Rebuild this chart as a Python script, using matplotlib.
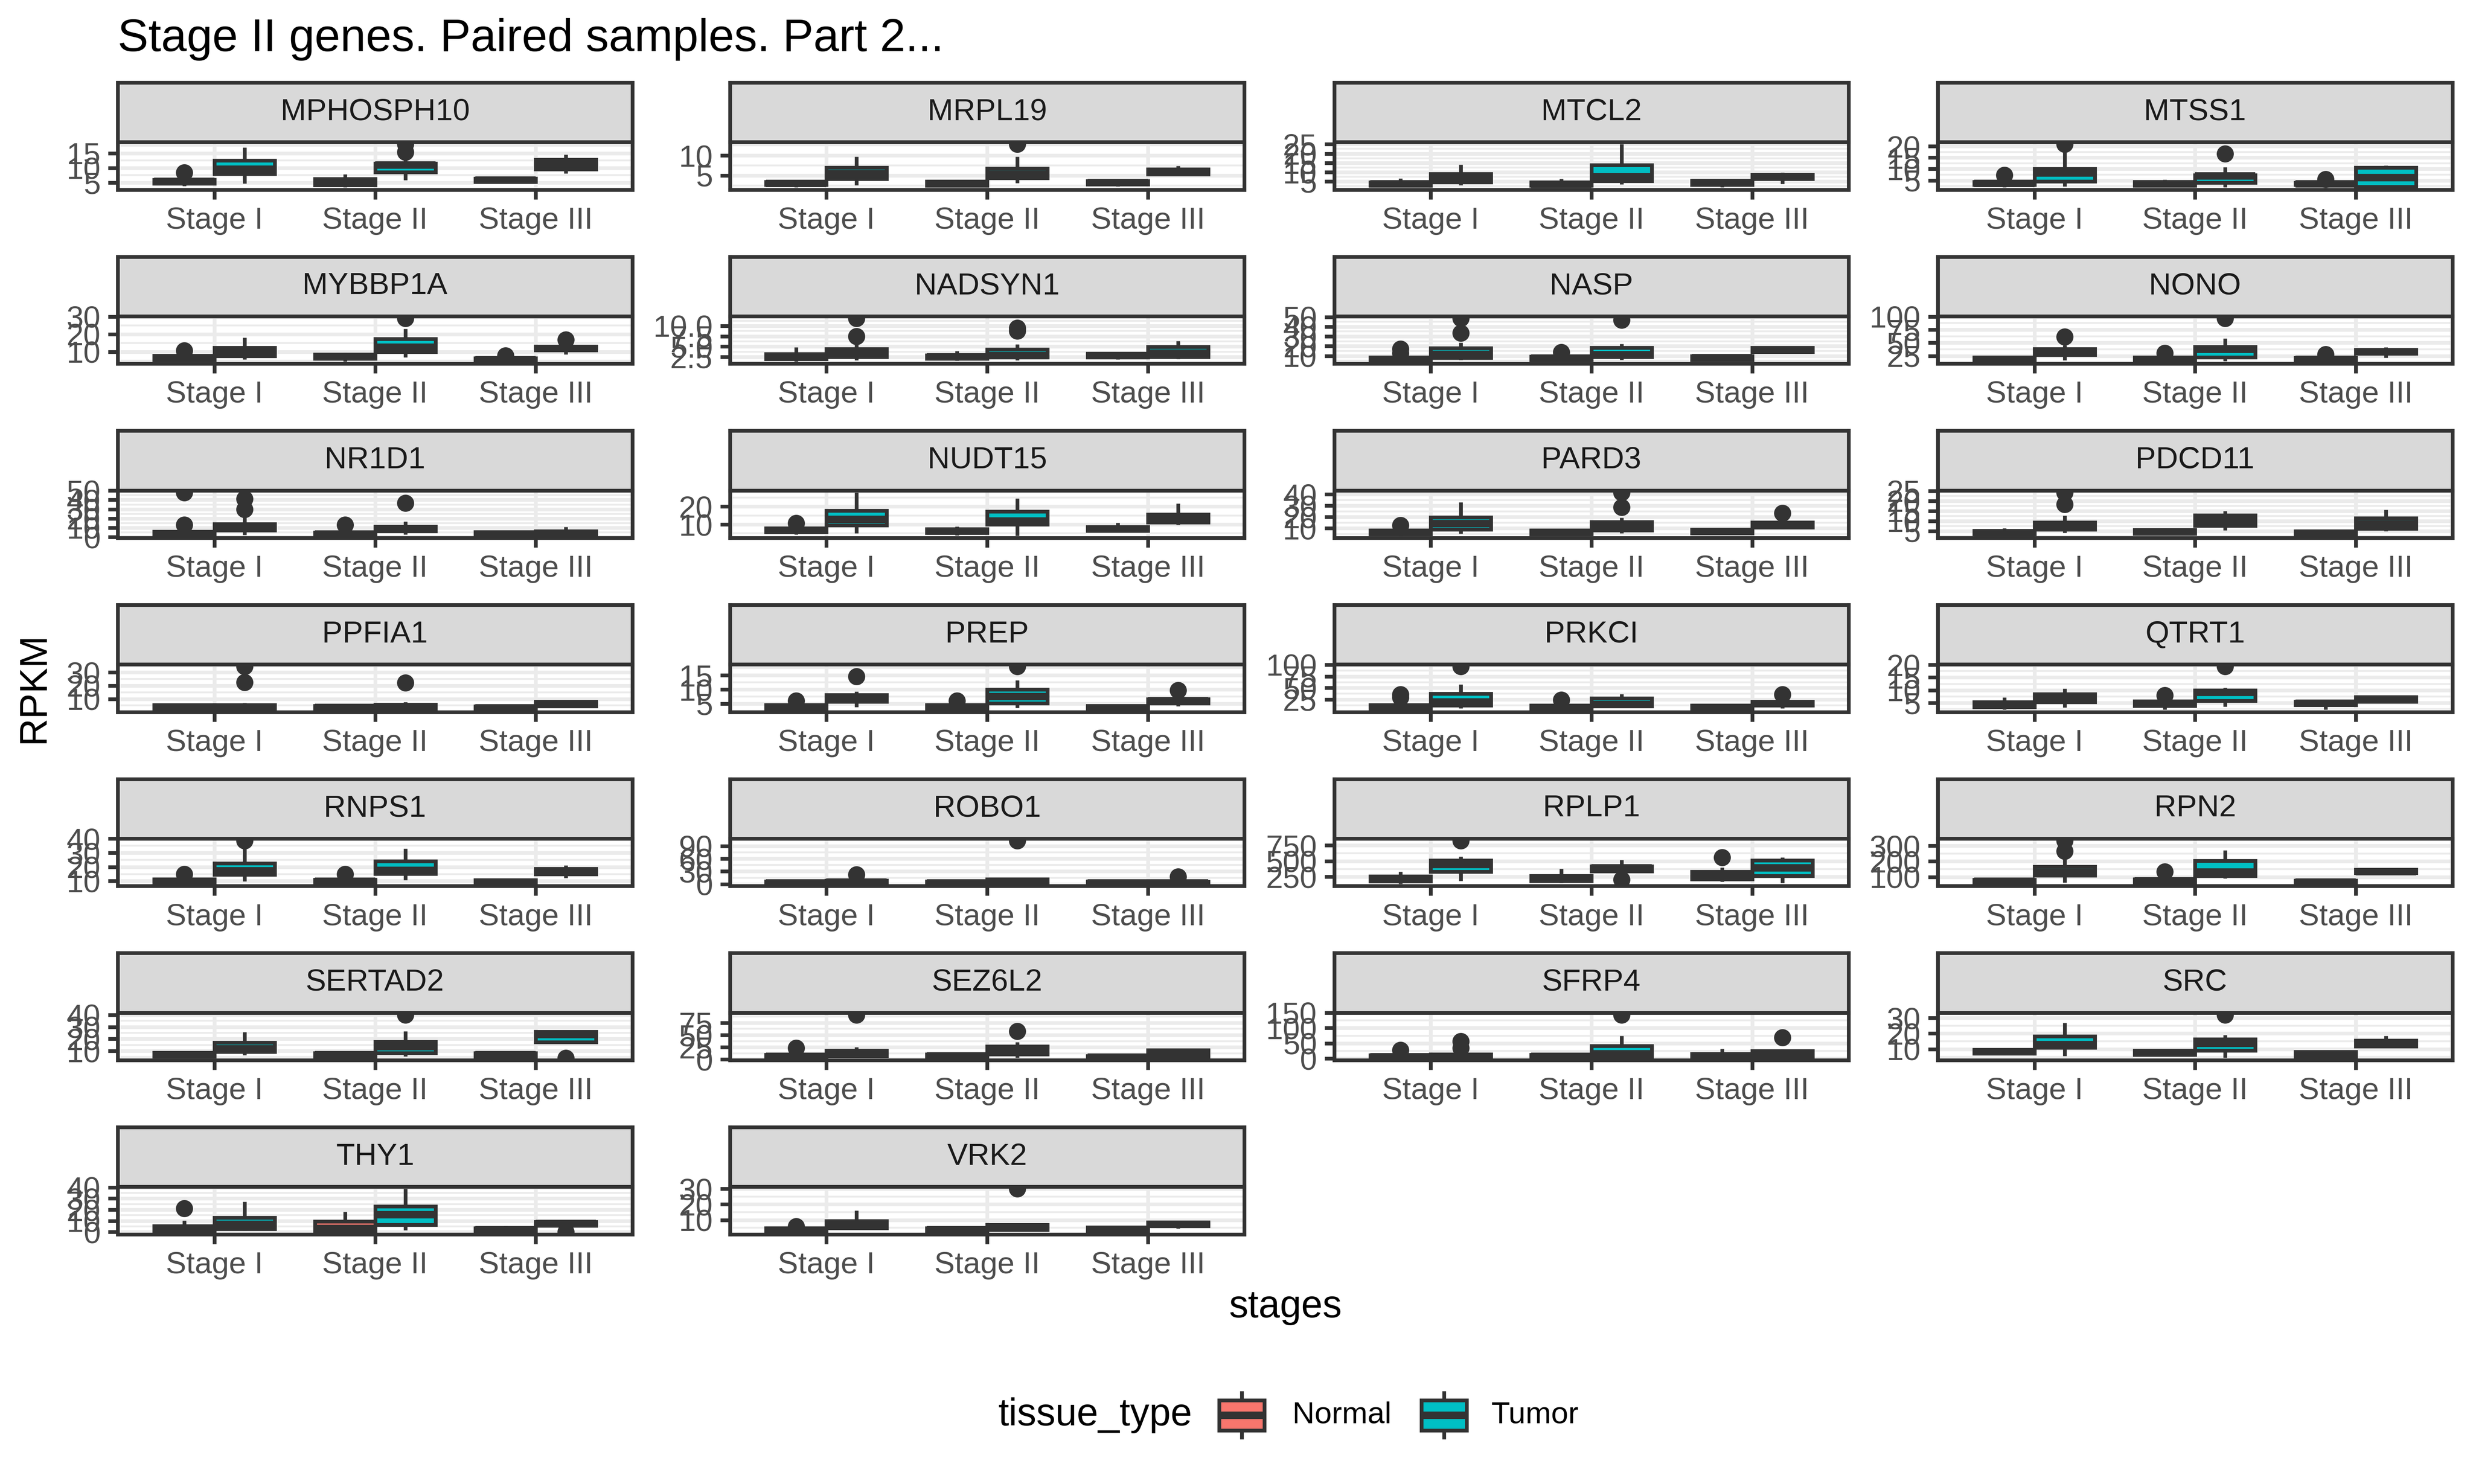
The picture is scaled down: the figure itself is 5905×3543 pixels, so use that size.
import matplotlib
matplotlib.use("Agg")
import matplotlib.pyplot as plt
from matplotlib.patches import Rectangle
from matplotlib.lines import Line2D
import numpy as np

plt.rcParams['font.family'] = ['Liberation Sans', 'DejaVu Sans']

# ------------------------------------------------------------------ data
stages = ["Stage I", "Stage II", "Stage III"]
tissues = ["Normal", "Tumor"]
tissue_colors = ["#F8766D", "#00BFC4"]
title_text = "Stage II genes. Paired samples. Part 2..."

genes = ["MPHOSPH10", "MRPL19", "MTCL2", "MTSS1",
         "MYBBP1A", "NADSYN1", "NASP", "NONO",
         "NR1D1", "NUDT15", "PARD3", "PDCD11",
         "PPFIA1", "PREP", "PRKCI", "QTRT1",
         "RNPS1", "ROBO1", "RPLP1", "RPN2",
         "SERTAD2", "SEZ6L2", "SFRP4", "SRC",
         "THY1", "VRK2"]

# boxes: [whisker_lo, q1, median, q3, whisker_hi] for
# Stage I Normal, Stage I Tumor, Stage II Normal, Stage II Tumor, Stage III Normal, Stage III Tumor
# outliers: (box index, value)
MPHOSPH10_box = [[3.9, 4.8, 5.4, 6.0, 7.0], [4.8, 8.0, 9.6, 12.5, 16.9], [3.4, 4.2, 5.2, 6.3, 7.8],
                 [5.9, 8.5, 10.9, 11.6, 13.6], [4.9, 5.3, 5.8, 6.4, 6.8], [8.2, 9.6, 11.2, 12.8, 14.5]]
MPHOSPH10_out = [(0, 8.4), (3, 15.3), (3, 18.0)]
MPHOSPH10_ticks = [5, 10, 15]

MRPL19_box = [[2.0, 2.65, 3.0, 3.4, 3.8], [2.6, 4.1, 5.4, 7.0, 9.7], [2.1, 2.5, 3.0, 3.5, 3.9],
              [3.1, 4.3, 5.3, 6.8, 9.7], [2.3, 2.8, 3.2, 3.6, 4.0], [5.0, 5.25, 6.0, 6.5, 7.4]]
MRPL19_out = [(3, 12.8)]
MRPL19_ticks = [5, 10]

MTCL2_box = [[1.8, 2.9, 3.7, 4.6, 6.7], [3.05, 4.5, 6.8, 9.0, 14.0], [1.8, 2.7, 3.5, 4.5, 6.3],
             [3.4, 5.3, 7.6, 13.8, 25.0], [2.0, 3.3, 4.3, 5.4, 6.0], [3.8, 6.4, 7.6, 8.6, 9.7]]
MTCL2_out = []
MTCL2_ticks = [5, 10, 15, 20, 25]

MTSS1_box = [[2.0, 3.0, 3.6, 4.45, 5.5], [2.3, 4.56, 8.2, 10.0, 17.9], [2.0, 2.8, 3.5, 4.35, 5.3],
             [1.9, 4.0, 6.9, 7.3, 10.9], [2.6, 3.0, 3.5, 4.0, 4.3], [2.0, 2.15, 6.3, 10.7, 11.5]]
MTSS1_out = [(0, 7.4), (1, 20.9), (3, 16.7), (4, 5.4)]
MTSS1_ticks = [5, 10, 15, 20]

MYBBP1A_box = [[4.8, 5.5, 6.5, 7.75, 8.5], [5.6, 7.6, 10.0, 12.4, 18.0], [4.5, 6.2, 7.2, 8.45, 9.5],
               [7.0, 10.1, 12.5, 17.3, 23.1], [4.6, 4.8, 5.5, 6.5, 7.0], [8.6, 11.0, 12.0, 13.2, 14.0]]
MYBBP1A_out = [(0, 10.7), (3, 29.0), (4, 7.9), (5, 17.0)]
MYBBP1A_ticks = [10, 20, 30]

NADSYN1_box = [[1.4, 2.0, 2.5, 3.2, 4.8], [1.75, 2.55, 3.3, 4.4, 5.5], [1.6, 2.15, 2.5, 2.95, 3.9],
               [1.7, 2.45, 2.85, 4.3, 5.5], [1.9, 2.4, 2.8, 3.3, 3.6], [2.0, 2.55, 3.4, 4.9, 6.4]]
NADSYN1_out = [(1, 7.5), (1, 11.8), (3, 8.8), (3, 9.5)]
NADSYN1_ticks = [2.5, 5.0, 7.5, 10.0]

NASP_box = [[4.2, 5.0, 6.5, 8.5, 11.0], [6.0, 8.0, 11.5, 18.0, 23.5], [4.3, 6.0, 7.5, 9.5, 11.5],
            [6.0, 9.0, 11.0, 18.5, 22.5], [4.5, 6.0, 8.0, 10.0, 11.0], [13.5, 14.0, 16.0, 18.5, 19.0]]
NASP_out = [(0, 13.0), (0, 17.0), (1, 33.5), (1, 48.5), (2, 13.5), (3, 46.8)]
NASP_ticks = [10, 20, 30, 40, 50]

NONO_box = [[14.5, 15.7, 18.5, 22.2, 24.0], [16.7, 27.3, 33.0, 38.4, 46.0], [14.5, 15.7, 18.0, 22.2, 24.5],
            [15.0, 22.7, 38.0, 42.6, 58.3], [15.0, 15.7, 18.5, 22.0, 24.0], [22.0, 29.6, 33.0, 37.0, 41.7]]
NONO_out = [(1, 61.6), (2, 30.5), (3, 96.5), (4, 28.0)]
NONO_ticks = [25, 50, 75, 100]

NR1D1_box = [[1.5, 1.8, 3.0, 5.8, 9.5], [2.5, 7.3, 10.8, 14.1, 21.1], [1.5, 1.8, 3.0, 4.8, 8.0],
             [2.8, 6.3, 8.5, 11.3, 16.6], [1.5, 1.8, 3.0, 5.5, 7.0], [1.5, 1.8, 3.5, 6.5, 11.0]]
NR1D1_out = [(0, 13.3), (0, 48.0), (1, 30.0), (1, 41.0), (2, 13.3), (3, 36.7)]
NR1D1_ticks = [0, 10, 20, 30, 40, 50]

NUDT15_box = [[4.5, 5.75, 6.8, 7.9, 9.0], [5.0, 9.5, 12.75, 17.75, 27.9], [4.0, 5.4, 6.3, 7.4, 8.9],
              [3.75, 10.1, 12.0, 17.25, 24.5], [6.0, 6.5, 7.5, 8.5, 11.0], [9.75, 11.25, 13.5, 15.6, 21.75]]
NUDT15_out = [(0, 10.8)]
NUDT15_ticks = [10, 20]

PARD3_box = [[3.5, 4.9, 6.5, 8.3, 9.5], [5.3, 9.1, 14.0, 19.6, 33.0], [3.8, 4.9, 6.3, 8.3, 9.0],
             [5.7, 8.1, 11.9, 15.8, 19.2], [4.0, 5.5, 7.0, 9.1, 9.8], [9.5, 10.9, 13.0, 15.4, 17.0]]
PARD3_out = [(0, 12.5), (3, 28.8), (3, 41.7), (5, 23.5)]
PARD3_ticks = [10, 20, 30, 40]

PDCD11_box = [[2.7, 3.4, 4.2, 5.2, 6.5], [4.2, 5.7, 7.6, 9.4, 12.6], [2.9, 3.7, 4.6, 5.6, 6.5],
              [5.35, 7.6, 10.2, 12.8, 14.9], [2.7, 3.0, 3.8, 4.9, 5.5], [5.0, 6.3, 8.4, 11.4, 15.6]]
PDCD11_out = [(1, 18.4), (1, 24.2)]
PDCD11_ticks = [5, 10, 15, 20, 25]

PPFIA1_box = [[1.8, 2.5, 3.5, 5.3, 6.5], [1.8, 2.5, 3.6, 5.3, 7.0], [1.8, 2.5, 3.5, 4.9, 6.0],
              [2.0, 2.6, 3.8, 5.8, 7.5], [1.8, 2.1, 3.2, 4.6, 5.5], [4.0, 4.6, 6.0, 8.1, 9.0]]
PPFIA1_out = [(1, 22.5), (1, 34.4), (3, 22.1)]
PPFIA1_ticks = [10, 20, 30]

PREP_box = [[2.9, 3.1, 3.8, 4.6, 5.2], [3.8, 5.7, 6.9, 8.2, 9.3], [2.9, 3.1, 3.8, 4.6, 5.2],
            [3.6, 5.25, 7.6, 10.0, 13.3], [2.9, 2.95, 3.6, 4.26, 4.5], [4.1, 5.25, 6.0, 6.7, 7.5]]
PREP_out = [(0, 6.0), (1, 14.6), (2, 6.0), (3, 18.1), (5, 9.8)]
PREP_ticks = [5, 10, 15]

PRKCI_box = [[3.0, 5.5, 8.0, 13.0, 22.0], [6.4, 12.1, 19.8, 37.9, 57.9], [3.0, 5.5, 8.0, 12.0, 18.0],
             [8.0, 10.2, 14.5, 27.4, 37.0], [3.0, 5.5, 8.0, 12.0, 14.0], [6.4, 12.0, 16.0, 20.7, 26.0]]
PRKCI_out = [(0, 30.0), (0, 36.0), (1, 96.0), (2, 24.0), (5, 36.0)]
PRKCI_ticks = [25, 50, 75, 100]

QTRT1_box = [[2.3, 3.3, 4.2, 5.3, 7.2], [3.2, 5.4, 6.95, 8.45, 10.6], [2.3, 3.9, 4.6, 5.6, 6.5],
             [3.5, 5.9, 9.2, 9.9, 10.9], [2.3, 4.2, 4.8, 5.5, 5.9], [5.3, 5.5, 6.5, 7.4, 7.6]]
QTRT1_out = [(2, 7.9), (3, 19.3)]
QTRT1_ticks = [5, 10, 15, 20]

RNPS1_box = [[8.2, 8.7, 9.8, 11.3, 13.0], [9.7, 14.5, 17.2, 22.5, 33.8], [8.0, 8.7, 9.8, 11.0, 13.0],
             [10.6, 15.1, 17.4, 24.1, 33.0], [8.0, 8.2, 9.3, 10.6, 11.0], [12.1, 15.0, 17.0, 18.7, 21.0]]
RNPS1_out = [(0, 15.0), (1, 38.6), (2, 15.0)]
RNPS1_ticks = [10, 20, 30, 40]

ROBO1_box = [[0.5, 1.1, 3.0, 6.1, 9.0], [1.0, 2.2, 5.0, 8.8, 14.0], [0.5, 1.1, 3.0, 6.6, 9.0],
             [1.0, 2.2, 5.5, 11.6, 13.0], [0.5, 1.1, 3.0, 6.6, 9.0], [0.5, 1.1, 3.0, 5.5, 8.0]]
ROBO1_out = [(1, 22.6), (3, 102.8), (5, 17.1)]
ROBO1_ticks = [0, 30, 60, 90]

RPLP1_box = [[139, 181, 220, 261, 330], [185, 334, 448, 513, 570], [150, 189, 230, 269, 380],
             [300, 338, 390, 422, 521], [170, 216, 270, 330, 400], [155, 265, 395, 510, 559]]
RPLP1_out = [(1, 826), (3, 204), (4, 559)]
RPLP1_ticks = [250, 500, 750]

RPN2_box = [[56, 63.5, 72, 84, 95], [63.5, 109, 129, 167, 215], [56, 65, 75, 87, 100],
            [91, 106, 131, 204, 271], [56, 58, 66, 77, 80], [120, 125, 135, 148, 152]]
RPN2_out = [(1, 266), (1, 332), (2, 135)]
RPN2_ticks = [100, 200, 300]

SERTAD2_box = [[4.5, 5.4, 7.0, 8.6, 9.5], [6.6, 9.4, 11.8, 17.0, 25.7], [4.5, 5.2, 6.8, 8.4, 9.5],
               [5.6, 8.2, 13.6, 17.6, 26.5], [4.5, 5.2, 6.8, 8.4, 9.5], [17.0, 17.4, 23.5, 26.1, 27.0]]
SERTAD2_out = [(3, 40.0), (5, 4.2)]
SERTAD2_ticks = [10, 20, 30, 40]

SEZ6L2_box = [[3.0, 4.0, 6.0, 9.5, 14.0], [4.0, 6.7, 12.0, 18.1, 24.8], [3.0, 4.0, 7.0, 10.5, 13.0],
              [3.5, 10.5, 18.6, 26.7, 35.0], [3.0, 3.5, 4.5, 6.7, 8.0], [3.5, 4.5, 12.0, 19.0, 20.0]]
SEZ6L2_out = [(0, 23.8), (1, 91.4), (3, 58.0)]
SEZ6L2_ticks = [0, 25, 50, 75]

SFRP4_box = [[2.0, 3.0, 6.0, 11.0, 16.0], [2.0, 3.0, 7.0, 13.4, 20.0], [2.0, 3.0, 7.0, 12.7, 15.0],
             [2.0, 3.5, 15.0, 41.8, 74.6], [2.0, 3.0, 8.0, 15.0, 32.0], [2.0, 3.0, 13.0, 24.6, 30.0]]
SFRP4_out = [(0, 28.0), (1, 35.0), (1, 57.0), (3, 143.2), (5, 69.4)]
SFRP4_ticks = [0, 50, 100, 150]

SRC_box = [[6.0, 7.2, 8.2, 9.55, 10.5], [5.7, 11.0, 12.8, 18.1, 26.7], [5.5, 6.4, 7.5, 9.0, 10.0],
           [4.6, 9.0, 13.7, 16.4, 19.1], [4.3, 4.3, 6.0, 8.4, 8.8], [11.5, 11.8, 13.5, 15.5, 18.5]]
SRC_out = [(3, 32.0)]
SRC_ticks = [10, 20, 30]

THY1_box = [[0.0, 0.4, 2.5, 5.6, 10.2], [1.2, 2.8, 7.0, 13.0, 27.2], [0.5, 0.8, 3.1, 9.5, 18.3],
            [1.7, 6.4, 15.7, 22.9, 38.6], [0.5, 0.8, 2.0, 3.5, 5.5], [3.0, 5.8, 7.5, 9.2, 9.5]]
THY1_out = [(0, 21.1), (5, 0.2)]
THY1_ticks = [0, 10, 20, 30, 40]

VRK2_box = [[2.2, 2.7, 3.5, 4.7, 5.0], [4.5, 4.7, 6.5, 9.4, 16.2], [2.2, 2.7, 3.6, 4.7, 5.0],
            [3.0, 3.8, 5.5, 6.9, 7.2], [2.4, 2.7, 3.8, 5.2, 5.5], [4.5, 6.0, 7.2, 8.6, 9.0]]
VRK2_out = [(0, 5.9), (3, 30.0)]
VRK2_ticks = [10, 20, 30]

gene_boxes = {
    "MPHOSPH10": MPHOSPH10_box, "MRPL19": MRPL19_box, "MTCL2": MTCL2_box, "MTSS1": MTSS1_box,
    "MYBBP1A": MYBBP1A_box, "NADSYN1": NADSYN1_box, "NASP": NASP_box, "NONO": NONO_box,
    "NR1D1": NR1D1_box, "NUDT15": NUDT15_box, "PARD3": PARD3_box, "PDCD11": PDCD11_box,
    "PPFIA1": PPFIA1_box, "PREP": PREP_box, "PRKCI": PRKCI_box, "QTRT1": QTRT1_box,
    "RNPS1": RNPS1_box, "ROBO1": ROBO1_box, "RPLP1": RPLP1_box, "RPN2": RPN2_box,
    "SERTAD2": SERTAD2_box, "SEZ6L2": SEZ6L2_box, "SFRP4": SFRP4_box, "SRC": SRC_box,
    "THY1": THY1_box, "VRK2": VRK2_box}
gene_outliers = {
    "MPHOSPH10": MPHOSPH10_out, "MRPL19": MRPL19_out, "MTCL2": MTCL2_out, "MTSS1": MTSS1_out,
    "MYBBP1A": MYBBP1A_out, "NADSYN1": NADSYN1_out, "NASP": NASP_out, "NONO": NONO_out,
    "NR1D1": NR1D1_out, "NUDT15": NUDT15_out, "PARD3": PARD3_out, "PDCD11": PDCD11_out,
    "PPFIA1": PPFIA1_out, "PREP": PREP_out, "PRKCI": PRKCI_out, "QTRT1": QTRT1_out,
    "RNPS1": RNPS1_out, "ROBO1": ROBO1_out, "RPLP1": RPLP1_out, "RPN2": RPN2_out,
    "SERTAD2": SERTAD2_out, "SEZ6L2": SEZ6L2_out, "SFRP4": SFRP4_out, "SRC": SRC_out,
    "THY1": THY1_out, "VRK2": VRK2_out}
gene_ticks = {
    "MPHOSPH10": MPHOSPH10_ticks, "MRPL19": MRPL19_ticks, "MTCL2": MTCL2_ticks, "MTSS1": MTSS1_ticks,
    "MYBBP1A": MYBBP1A_ticks, "NADSYN1": NADSYN1_ticks, "NASP": NASP_ticks, "NONO": NONO_ticks,
    "NR1D1": NR1D1_ticks, "NUDT15": NUDT15_ticks, "PARD3": PARD3_ticks, "PDCD11": PDCD11_ticks,
    "PPFIA1": PPFIA1_ticks, "PREP": PREP_ticks, "PRKCI": PRKCI_ticks, "QTRT1": QTRT1_ticks,
    "RNPS1": RNPS1_ticks, "ROBO1": ROBO1_ticks, "RPLP1": RPLP1_ticks, "RPN2": RPN2_ticks,
    "SERTAD2": SERTAD2_ticks, "SEZ6L2": SEZ6L2_ticks, "SFRP4": SFRP4_ticks, "SRC": SRC_ticks,
    "THY1": THY1_ticks, "VRK2": VRK2_ticks}

# ------------------------------------------------------------------ style / layout
DPI = 600
SW, SH = 1568.0, 941.0          # layout measured on a 1568x941 preview
COL_LEFT = [74.7, 462.8, 845.9, 1228.7]
PANEL_W = 326.2
ROW_TOP0 = 52.3
ROW_PITCH = 110.4
STRIP_H = 37.8
PANEL_H = 30.1

LW = 0.5 * 72.27 / 25.4 * 72 / 96   # ggplot linewidth 0.5 in points
DARK = "#333333"
GRID = "#EBEBEB"
STRIP_FILL = "#D9D9D9"
BOX_W = 0.375


def rect(x, y, w, h):
    return [x / SW, 1 - (y + h) / SH, w / SW, h / SH]


def fmt_ticks(ticks):
    if all(float(t).is_integer() for t in ticks):
        return [str(int(t)) for t in ticks]
    return [f"{t:.1f}" for t in ticks]


fig = plt.figure(figsize=(5905 / DPI, 3543 / DPI), dpi=DPI)
fig.patch.set_facecolor("white")

for i, g in enumerate(genes):
    r, c = divmod(i, 4)
    x0 = COL_LEFT[c]
    ytop = ROW_TOP0 + r * ROW_PITCH

    # strip
    sax = fig.add_axes(rect(x0, ytop, PANEL_W, STRIP_H))
    sax.set_facecolor(STRIP_FILL)
    sax.set_xticks([]); sax.set_yticks([])
    for sp in sax.spines.values():
        sp.set_color(DARK); sp.set_linewidth(LW)
    sax.text(0.5, 0.5, g, ha="center", va="center", fontsize=8.8, color="#1A1A1A",
             transform=sax.transAxes)

    # panel
    ax = fig.add_axes(rect(x0, ytop + STRIP_H, PANEL_W, PANEL_H))
    ax.set_facecolor("white")
    boxes = gene_boxes[g]
    outs = gene_outliers[g]
    stats, positions = [], []
    for j, (lo, q1, med, q3, hi) in enumerate(boxes):
        s, t = divmod(j, 2)
        fl = [v for (k, v) in outs if k == j]
        stats.append(dict(whislo=lo, q1=q1, med=med, q3=q3, whishi=hi, fliers=fl))
        positions.append(s + 1 + (t - 0.5) * BOX_W)
    bp = ax.bxp(stats, positions=positions, widths=BOX_W, patch_artist=True,
                showcaps=False, manage_ticks=False,
                boxprops=dict(edgecolor=DARK, linewidth=LW, zorder=3.2),
                medianprops=dict(color=DARK, linewidth=2 * LW, solid_capstyle="butt", zorder=3.3),
                whiskerprops=dict(color=DARK, linewidth=LW, solid_capstyle="butt", zorder=3.1),
                flierprops=dict(marker="o", markerfacecolor=DARK, markeredgecolor=DARK,
                                markersize=4.4, markeredgewidth=0.5, linestyle="none", zorder=3.0))
    for j, patch in enumerate(bp["boxes"]):
        patch.set_facecolor(tissue_colors[j % 2])

    allv = [v for b in boxes for v in b] + [v for (_, v) in outs]
    vmin, vmax = min(allv), max(allv)
    rng = vmax - vmin
    ax.set_ylim(vmin - 0.05 * rng, vmax + 0.05 * rng)
    ax.set_xlim(0.4, 3.6)

    ticks = gene_ticks[g]
    ax.set_yticks(ticks)
    ax.set_yticklabels(fmt_ticks(ticks))
    step = ticks[1] - ticks[0]
    lo_lim, hi_lim = ax.get_ylim()
    minors = [m for m in np.arange(ticks[0] - step / 2, ticks[-1] + step, step)
              if lo_lim <= m <= hi_lim]
    ax.set_yticks(minors, minor=True)
    ax.set_xticks([1, 2, 3])
    ax.set_xticklabels(stages)

    ax.grid(which="major", color=GRID, linewidth=LW)
    ax.grid(which="minor", axis="y", color=GRID, linewidth=LW / 2)
    ax.set_axisbelow(True)
    ax.tick_params(which="major", length=2.75, width=LW, color=DARK, pad=2.2,
                   labelsize=8.8, labelcolor="#4D4D4D")
    ax.tick_params(which="minor", length=0)
    for sp in ax.spines.values():
        sp.set_color(DARK); sp.set_linewidth(LW); sp.set_zorder(5)

# titles
fig.text(74.7 / SW, 1 - 32.5 / SH, title_text, ha="left", va="baseline", fontsize=13.2, color="black")
fig.text(815.0 / SW, 1 - 829.0 / SH, "stages", ha="center", va="center", fontsize=11, color="black")
fig.text(21.6 / SW, 1 - 436.0 / SH, "RPKM", ha="center", va="center", rotation=90,
         fontsize=11, color="black")

# legend
LEG_Y = 897.4
KEY = 38.24
fig.text(633.0 / SW, 1 - LEG_Y / SH, "tissue_type", ha="left", va="center", fontsize=11, color="black")
key_centers = [787.2, 915.7]
label_x = [819.5, 945.5]
for t in range(2):
    kax = fig.add_axes(rect(key_centers[t] - KEY / 2, LEG_Y - KEY / 2, KEY, KEY))
    kax.set_xlim(0, 1); kax.set_ylim(0, 1); kax.axis("off")
    kax.add_line(Line2D([0.5, 0.5], [0.1, 0.25], color=DARK, linewidth=LW, solid_capstyle="butt"))
    kax.add_line(Line2D([0.5, 0.5], [0.75, 0.9], color=DARK, linewidth=LW, solid_capstyle="butt"))
    kax.add_patch(Rectangle((0.125, 0.25), 0.75, 0.5, facecolor=tissue_colors[t],
                            edgecolor=DARK, linewidth=LW))
    kax.add_line(Line2D([0.125, 0.875], [0.5, 0.5], color=DARK, linewidth=2 * LW, solid_capstyle="butt"))
    fig.text(label_x[t] / SW, 1 - LEG_Y / SH, tissues[t], ha="left", va="center",
             fontsize=8.8, color="black")

fig.savefig("out.png", dpi=DPI, facecolor="white")
